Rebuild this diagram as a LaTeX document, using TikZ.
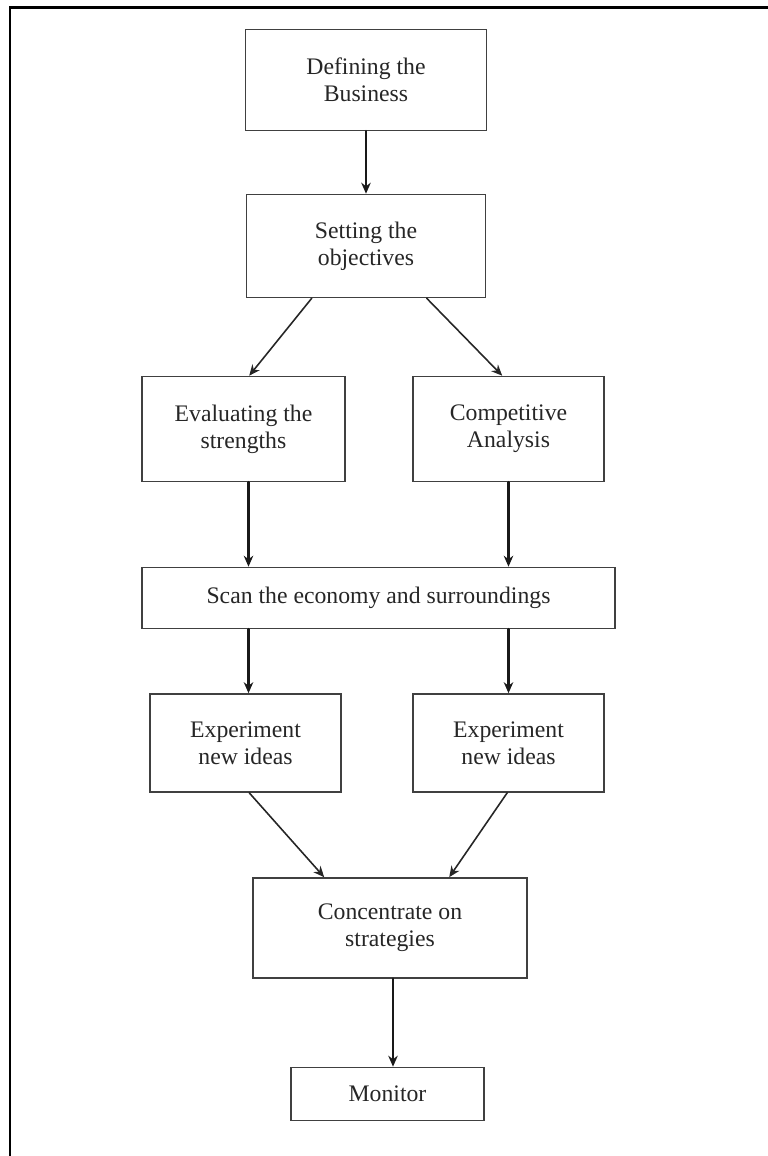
\documentclass[tikz,border=0pt]{standalone}
\usepackage{fontspec}
\setmainfont{Liberation Serif}
\usepackage{tikz}
\usetikzlibrary{arrows.meta}
\usepackage{xcolor}

\begin{document}
\begin{tikzpicture}[>={Stealth[length=2.2mm,width=1.9mm]},font=\fontsize{13.5}{15.5}\selectfont,line cap=round,
  box/.style={draw=black!75,line width=0.9pt,align=center,inner sep=0pt,text=black!85},
  flow/.style={->,line width=1.7pt,black!90},
  slant/.style={->,line width=0.9pt,black!85}]
\useasboundingbox (0,0) rectangle (15.36,23.12);
\draw[line width=1.7pt] (0.2,0) -- (0.2,22.96) -- (15.36,22.96);
\node[box,minimum width=4.82cm,minimum height=2.02cm] (def) at (7.32,21.52) {Defining the\\Business};
\node[box,minimum width=4.78cm,minimum height=2.06cm] (obj) at (7.32,18.20) {Setting the\\objectives};
\node[box,minimum width=4.06cm,minimum height=2.10cm] (eval) at (4.87,14.54) {Evaluating the\\strengths};
\node[box,minimum width=3.82cm,minimum height=2.10cm] (comp) at (10.17,14.54) {Competitive\\Analysis};
\node[box,minimum width=9.46cm,minimum height=1.22cm] (scan) at (7.57,11.16) {Scan the economy and surroundings};
\node[box,minimum width=3.82cm,minimum height=1.96cm] (expl) at (4.91,8.26) {Experiment\\new ideas};
\node[box,minimum width=3.82cm,minimum height=1.96cm] (expr) at (10.17,8.26) {Experiment\\new ideas};
\node[box,minimum width=5.48cm,minimum height=2.00cm] (conc) at (7.80,4.56) {Concentrate on\\strategies};
\node[box,minimum width=3.86cm,minimum height=1.06cm] (mon) at (7.75,1.24) {Monitor};
\draw[flow] (def.south) -- (obj.north);
\draw[slant] ([xshift=1.32cm]obj.south west) -- ([xshift=2.16cm]eval.north west);
\draw[slant] ([xshift=3.62cm]obj.south west) -- ([xshift=1.80cm]comp.north west);
\draw[flow] ([xshift=0.1cm]eval.south) -- ([xshift=0.1cm]eval.south |- scan.north);
\draw[flow] (comp.south) -- (comp.south |- scan.north);
\draw[flow] ([xshift=0.06cm]scan.south -| expl) -- ([xshift=0.06cm]expl.north);
\draw[flow] (scan.south -| expr) -- (expr.north);
\draw[slant] ([xshift=2.00cm]expl.south west) -- ([xshift=1.44cm]conc.north west);
\draw[slant] ([xshift=1.90cm]expr.south west) -- ([xshift=3.94cm]conc.north west);
\draw[flow] ([xshift=0.06cm]conc.south) -- ([xshift=0.06cm]conc.south |- mon.north);
\end{tikzpicture}
\end{document}
